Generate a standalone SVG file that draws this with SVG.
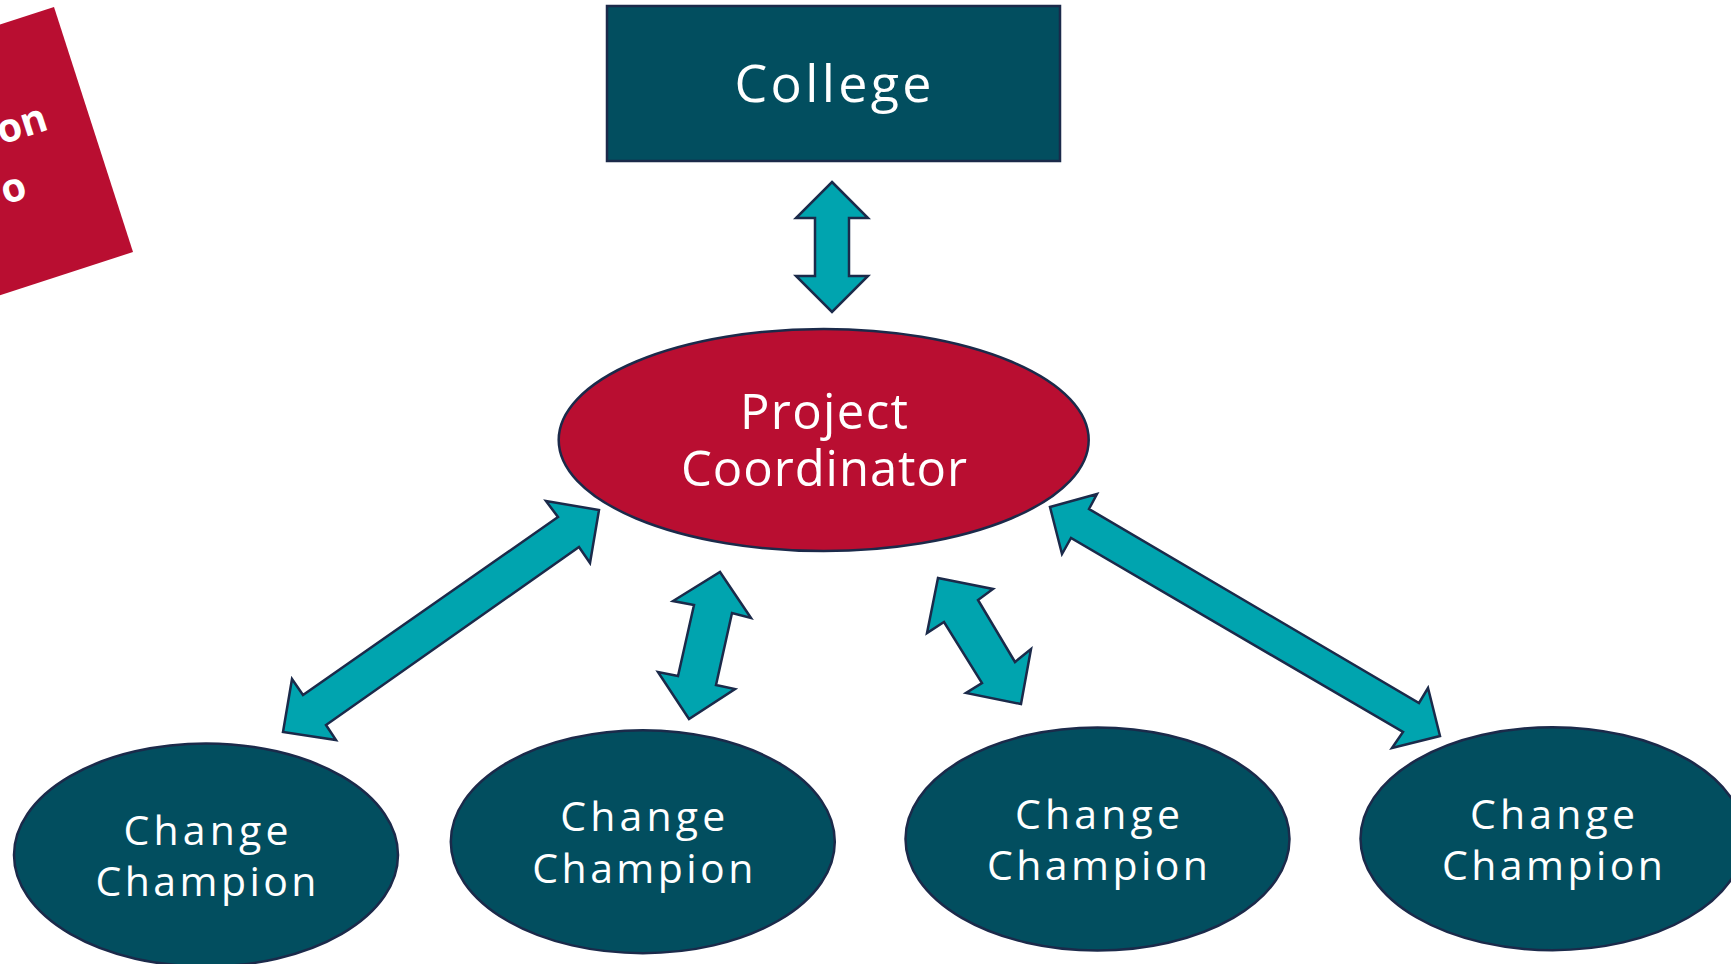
<svg xmlns="http://www.w3.org/2000/svg" width="1731" height="964" viewBox="0 0 1731 964">
<style>
.dark{fill:#024E5F;stroke:#1B2A4A;stroke-width:2.5}
.red{fill:#B90E31;stroke:#1B2A4A;stroke-width:2.5}
.arr{fill:#00A4AF;stroke:#1B2A4A;stroke-width:2.5;stroke-linejoin:miter}
.lbl{font-family:"Open Sans","Liberation Sans",sans-serif;fill:#FFFFFF;text-anchor:middle}
.big{font-size:52px}
.mid{font-size:49px}
.sm{font-size:41px}
.tag{font-family:"Open Sans","Liberation Sans",sans-serif;font-weight:700;font-size:40px;fill:#FFFFFF;text-anchor:end}
</style>
<rect width="1731" height="964" fill="#FFFFFF"/>
<g id="banner">
<polygon points="54,7 133,252 -300,393 -379,148" fill="#B90E31"/>
<text class="tag" transform="translate(50,129) rotate(-18)">on</text>
<text class="tag" transform="translate(29,197) rotate(-18)">o</text>
</g>
<g id="connectors">
<polygon class="arr" points="832,182 868,218 849,218 849,276 868,276 832,312 796,276 815,276 815,218 796,218"/>
<polygon class="arr" points="599,510 590,563 579,547 326,725 336,740 283,732 292,679 303,695 558,517 546,501"/>
<polygon class="arr" points="720,572 751,618 732,613 716,685 735,689 689,719 658,672 678,676 694,605 673,601"/>
<polygon class="arr" points="938,578 993,589 978,600 1015,662 1031,649 1021,704 966,693 982,683 944,622 927,633"/>
<polygon class="arr" points="1050,507 1097,494 1089,509 1419,703 1428,688 1440,736 1392,748 1403,732 1071,538 1062,554"/>
</g>
<g id="college">
<rect class="dark" x="607" y="6" width="453" height="155"/>
<text class="lbl big" x="833" y="102" textLength="197" lengthAdjust="spacing">College</text>
</g>
<g id="coordinator">
<ellipse class="red" cx="823.7" cy="440" rx="265" ry="111"/>
<text class="lbl mid" x="824" y="429" textLength="168" lengthAdjust="spacing">Project</text>
<text class="lbl mid" x="824" y="486" textLength="286" lengthAdjust="spacing">Coordinator</text>
</g>
<g id="champion1">
<ellipse class="dark" cx="206" cy="855" rx="192" ry="111.5"/>
<text class="lbl sm" x="206" y="845" textLength="165" lengthAdjust="spacing">Change</text>
<text class="lbl sm" x="206" y="896" textLength="221" lengthAdjust="spacing">Champion</text>
</g>
<g id="champion2">
<ellipse class="dark" cx="642.8" cy="841.7" rx="192" ry="111.5"/>
<text class="lbl sm" x="642.8" y="831" textLength="165" lengthAdjust="spacing">Change</text>
<text class="lbl sm" x="642.8" y="883" textLength="221" lengthAdjust="spacing">Champion</text>
</g>
<g id="champion3">
<ellipse class="dark" cx="1097.5" cy="839" rx="192" ry="111.5"/>
<text class="lbl sm" x="1097.5" y="829" textLength="165" lengthAdjust="spacing">Change</text>
<text class="lbl sm" x="1097.5" y="880" textLength="221" lengthAdjust="spacing">Champion</text>
</g>
<g id="champion4">
<ellipse class="dark" cx="1552.5" cy="838.7" rx="192" ry="111.5"/>
<text class="lbl sm" x="1552.5" y="828.5" textLength="165" lengthAdjust="spacing">Change</text>
<text class="lbl sm" x="1552.5" y="879.5" textLength="221" lengthAdjust="spacing">Champion</text>
</g>
</svg>
